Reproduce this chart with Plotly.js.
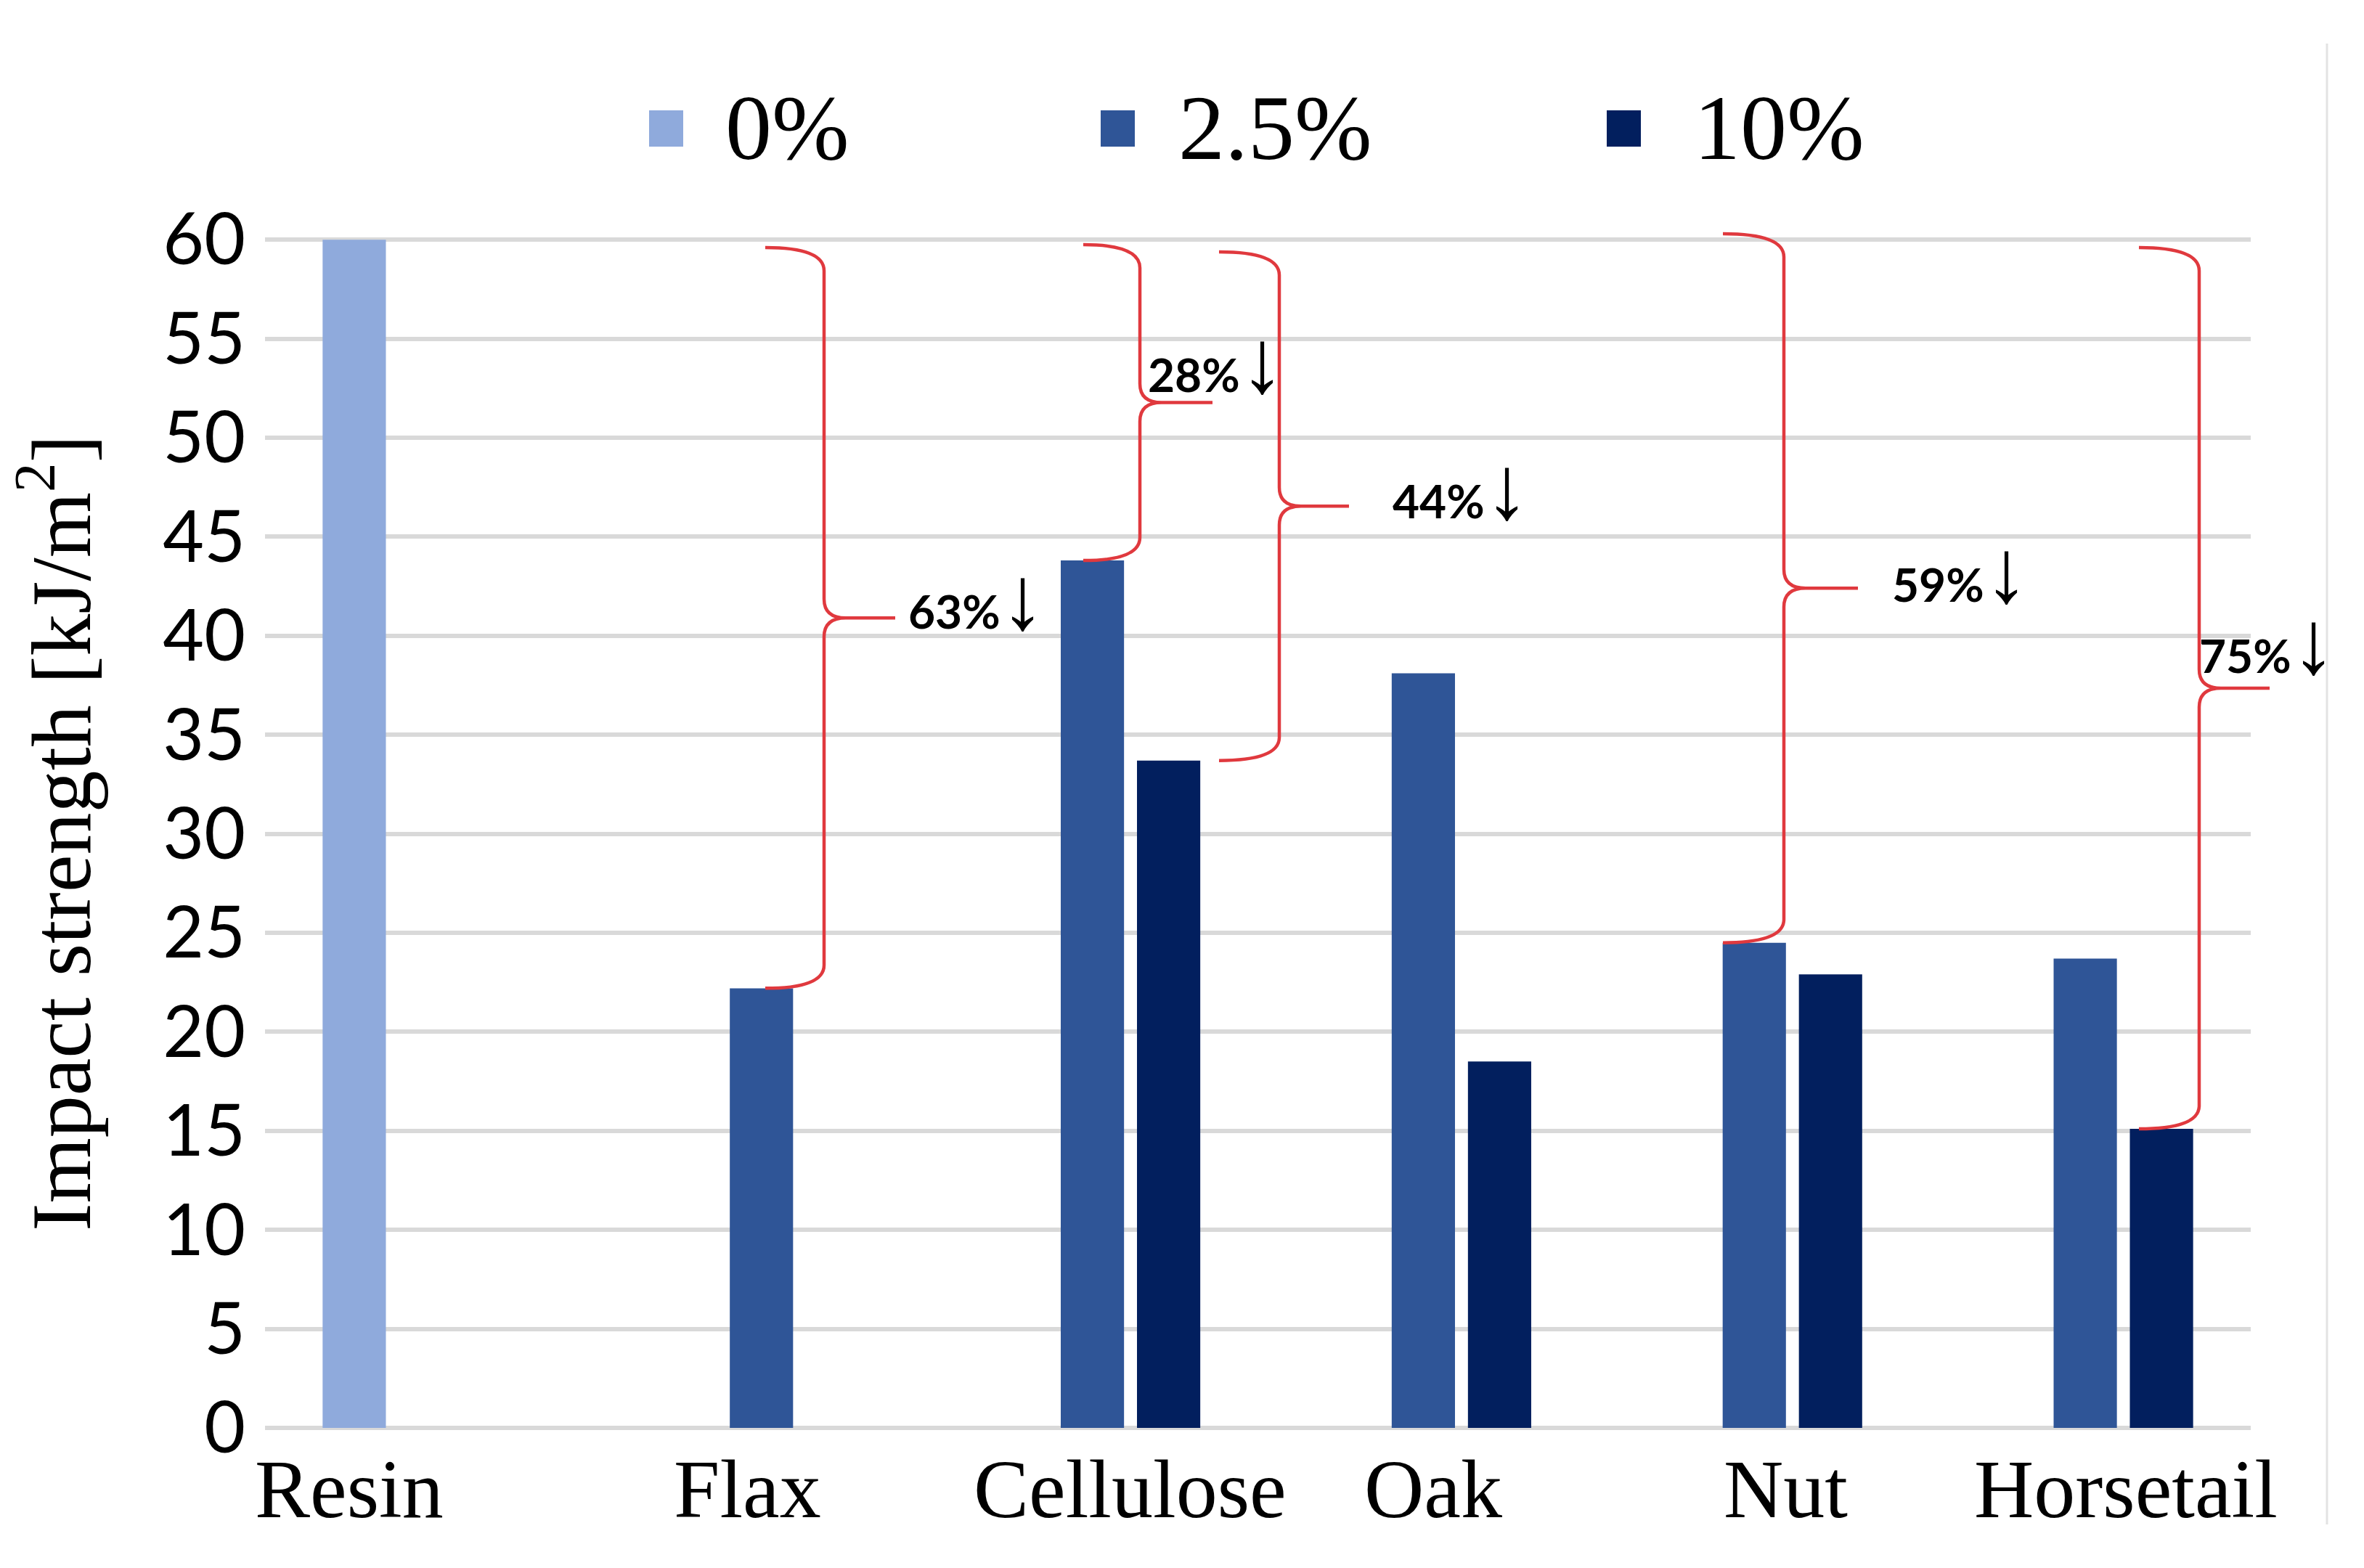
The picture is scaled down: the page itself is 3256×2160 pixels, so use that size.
<!DOCTYPE html>
<html>
<head>
<meta charset="utf-8">
<script src="https://cdn.plot.ly/plotly-3.0.1.min.js"></script>
<style>html,body{margin:0;padding:0;background:#fff;}#chart{width:3256px;height:2160px;}</style>
</head>
<body>
<div id="chart"></div>
<script>
// ---- data ----
const categories = ['Resin', 'Flax', 'Cellulose', 'Oak', 'Nut', 'Horsetail'];
const seriesNames = ['0%', '2.5%', '10%'];
const values0 = [60, null, null, null, null, null];
const values25 = [null, 22.2, 43.8, 38.1, 24.5, 23.7];
const values10 = [null, null, 33.7, 18.5, 22.9, 15.1];
const yTicks = [0, 5, 10, 15, 20, 25, 30, 35, 40, 45, 50, 55, 60];
const reductionLabels = ['63%', '28%', '44%', '59%', '75%'];
const yTitle = 'Impact strength [kJ/m<sup>2</sup>]';

// ---- style / layout constants ----
const W = 3256, H = 2160;
const L = 365, R = 3100, T = 328, B = 1967;
const yTop = 60.08;
const colors = ['#8FAADC', '#2F5597', '#021F5E'];
const red = '#E0393E';
const serif = 'Liberation Serif, Times New Roman, serif';
const sans = 'Lato, Carlito, Calibri, sans-serif';

const px2x = p => (p - L) / (R - L);
const py2y = p => (B - p) / (B - T);
const v2y = v => v / yTop;

const traces = [values0, values25, values10].map((vals, i) => ({
  type: 'bar', x: categories, y: vals, name: seriesNames[i],
  marker: {color: colors[i], line: {width: 0}}, showlegend: false,
  hoverinfo: 'x+y+name'
}));

const shapes = [];
const annotations = [];

// x category labels (placed under the axis, shifted like the original)
const labelShift = [-112, -19, 52, 14, 43, 56];
categories.forEach((c, i) => {
  annotations.push({
    xref: 'x', yref: 'paper', x: c, y: py2y(2051), xshift: labelShift[i],
    text: c, showarrow: false, xanchor: 'center', yanchor: 'middle',
    font: {family: serif, size: 114, color: '#000'}
  });
});

// manual legend
const legMarkX = [894, 1516, 2213];
const legTextX = [997, 1621, 2331];
seriesNames.forEach((n, i) => {
  shapes.push({type: 'rect', xref: 'paper', yref: 'paper',
    x0: px2x(legMarkX[i]), x1: px2x(legMarkX[i] + 47), y0: py2y(152), y1: py2y(202),
    fillcolor: colors[i], line: {width: 0}});
  annotations.push({xref: 'paper', yref: 'paper', x: px2x(legTextX[i]), y: py2y(176),
    text: n, showarrow: false, xanchor: 'left', yanchor: 'middle',
    font: {family: serif, size: 128, color: '#000'}});
});

// braces: from the resin level down to the bar they compare
const braces = [
  {xl: 1054, xv: 1135, xt: 1233, top: 341, bottom: values25[1]},
  {xl: 1492, xv: 1570, xt: 1670, top: 337, bottom: values25[2]},
  {xl: 1679, xv: 1762, xt: 1858, top: 347, bottom: values10[2]},
  {xl: 2373, xv: 2457, xt: 2559, top: 322, bottom: values25[4]},
  {xl: 2946, xv: 3029, xt: 3126, top: 341, bottom: values10[5]}
];
braces.forEach(b => {
  const ybPx = B - (B - T) * v2y(b.bottom);
  const ytPx = b.top;
  const ymPx = (ytPx + ybPx) / 2;
  const r = 32, rc = 26, cusp = 30;
  const X = p => px2x(p).toFixed(5), Y = p => py2y(p).toFixed(5);
  const path = 'M' + X(b.xl) + ',' + Y(ytPx) +
    ' Q' + X(b.xv) + ',' + Y(ytPx) + ' ' + X(b.xv) + ',' + Y(ytPx + r) +
    ' L' + X(b.xv) + ',' + Y(ymPx - rc) +
    ' Q' + X(b.xv) + ',' + Y(ymPx) + ' ' + X(b.xv + cusp) + ',' + Y(ymPx) +
    ' L' + X(b.xt) + ',' + Y(ymPx) +
    ' M' + X(b.xv + cusp) + ',' + Y(ymPx) +
    ' Q' + X(b.xv) + ',' + Y(ymPx) + ' ' + X(b.xv) + ',' + Y(ymPx + rc) +
    ' L' + X(b.xv) + ',' + Y(ybPx - r) +
    ' Q' + X(b.xv) + ',' + Y(ybPx) + ' ' + X(b.xl) + ',' + Y(ybPx);
  shapes.push({type: 'path', xref: 'paper', yref: 'paper', path: path,
    line: {color: red, width: 4.5}, layer: 'above'});
});

// reduction labels
const labelPos = [[1345, 823], [1675, 497], [2012, 671], [2700, 786], [3123, 884]];
reductionLabels.forEach((t, i) => {
  annotations.push({xref: 'paper', yref: 'paper', x: px2x(labelPos[i][0]), y: py2y(labelPos[i][1]),
    text: '<b>' + t + '</b><span style="font-family:Liberation Sans;font-weight:normal;font-size:124px">↓</span>',
    showarrow: false, xanchor: 'center', yanchor: 'middle',
    font: {family: sans, size: 64, color: '#000'}});
});

// right border line of the original figure
shapes.push({type: 'line', xref: 'paper', yref: 'paper',
  x0: px2x(3205), x1: px2x(3205), y0: py2y(60), y1: py2y(2100),
  line: {color: '#E3E3E3', width: 3}});

const layout = {
  width: W, height: H,
  margin: {l: L, r: W - R, t: T, b: H - B, pad: 0},
  paper_bgcolor: '#fff', plot_bgcolor: '#fff',
  barmode: 'group', bargap: 0.309, bargroupgap: 0.17,
  showlegend: false,
  xaxis: {type: 'category', range: [-0.5, categories.length - 0.5], autorange: false,
    showticklabels: false, showgrid: false, zeroline: false,
    showline: false, ticks: '', fixedrange: true},
  yaxis: {range: [0, yTop], autorange: false, tickvals: yTicks, ticktext: yTicks.map(String),
    showgrid: true, gridcolor: '#D9D9D9', gridwidth: 6,
    zeroline: true, zerolinecolor: '#D9D9D9', zerolinewidth: 6,
    showline: false, ticks: '', ticklabelstandoff: 26,
    tickfont: {family: sans, size: 98, color: '#000'},
    title: {text: yTitle, font: {family: serif, size: 116, color: '#000'}, standoff: 60}},
  shapes: shapes,
  annotations: annotations
};

Plotly.newPlot('chart', traces, layout, {staticPlot: true, displayModeBar: false});
</script>
</body>
</html>
